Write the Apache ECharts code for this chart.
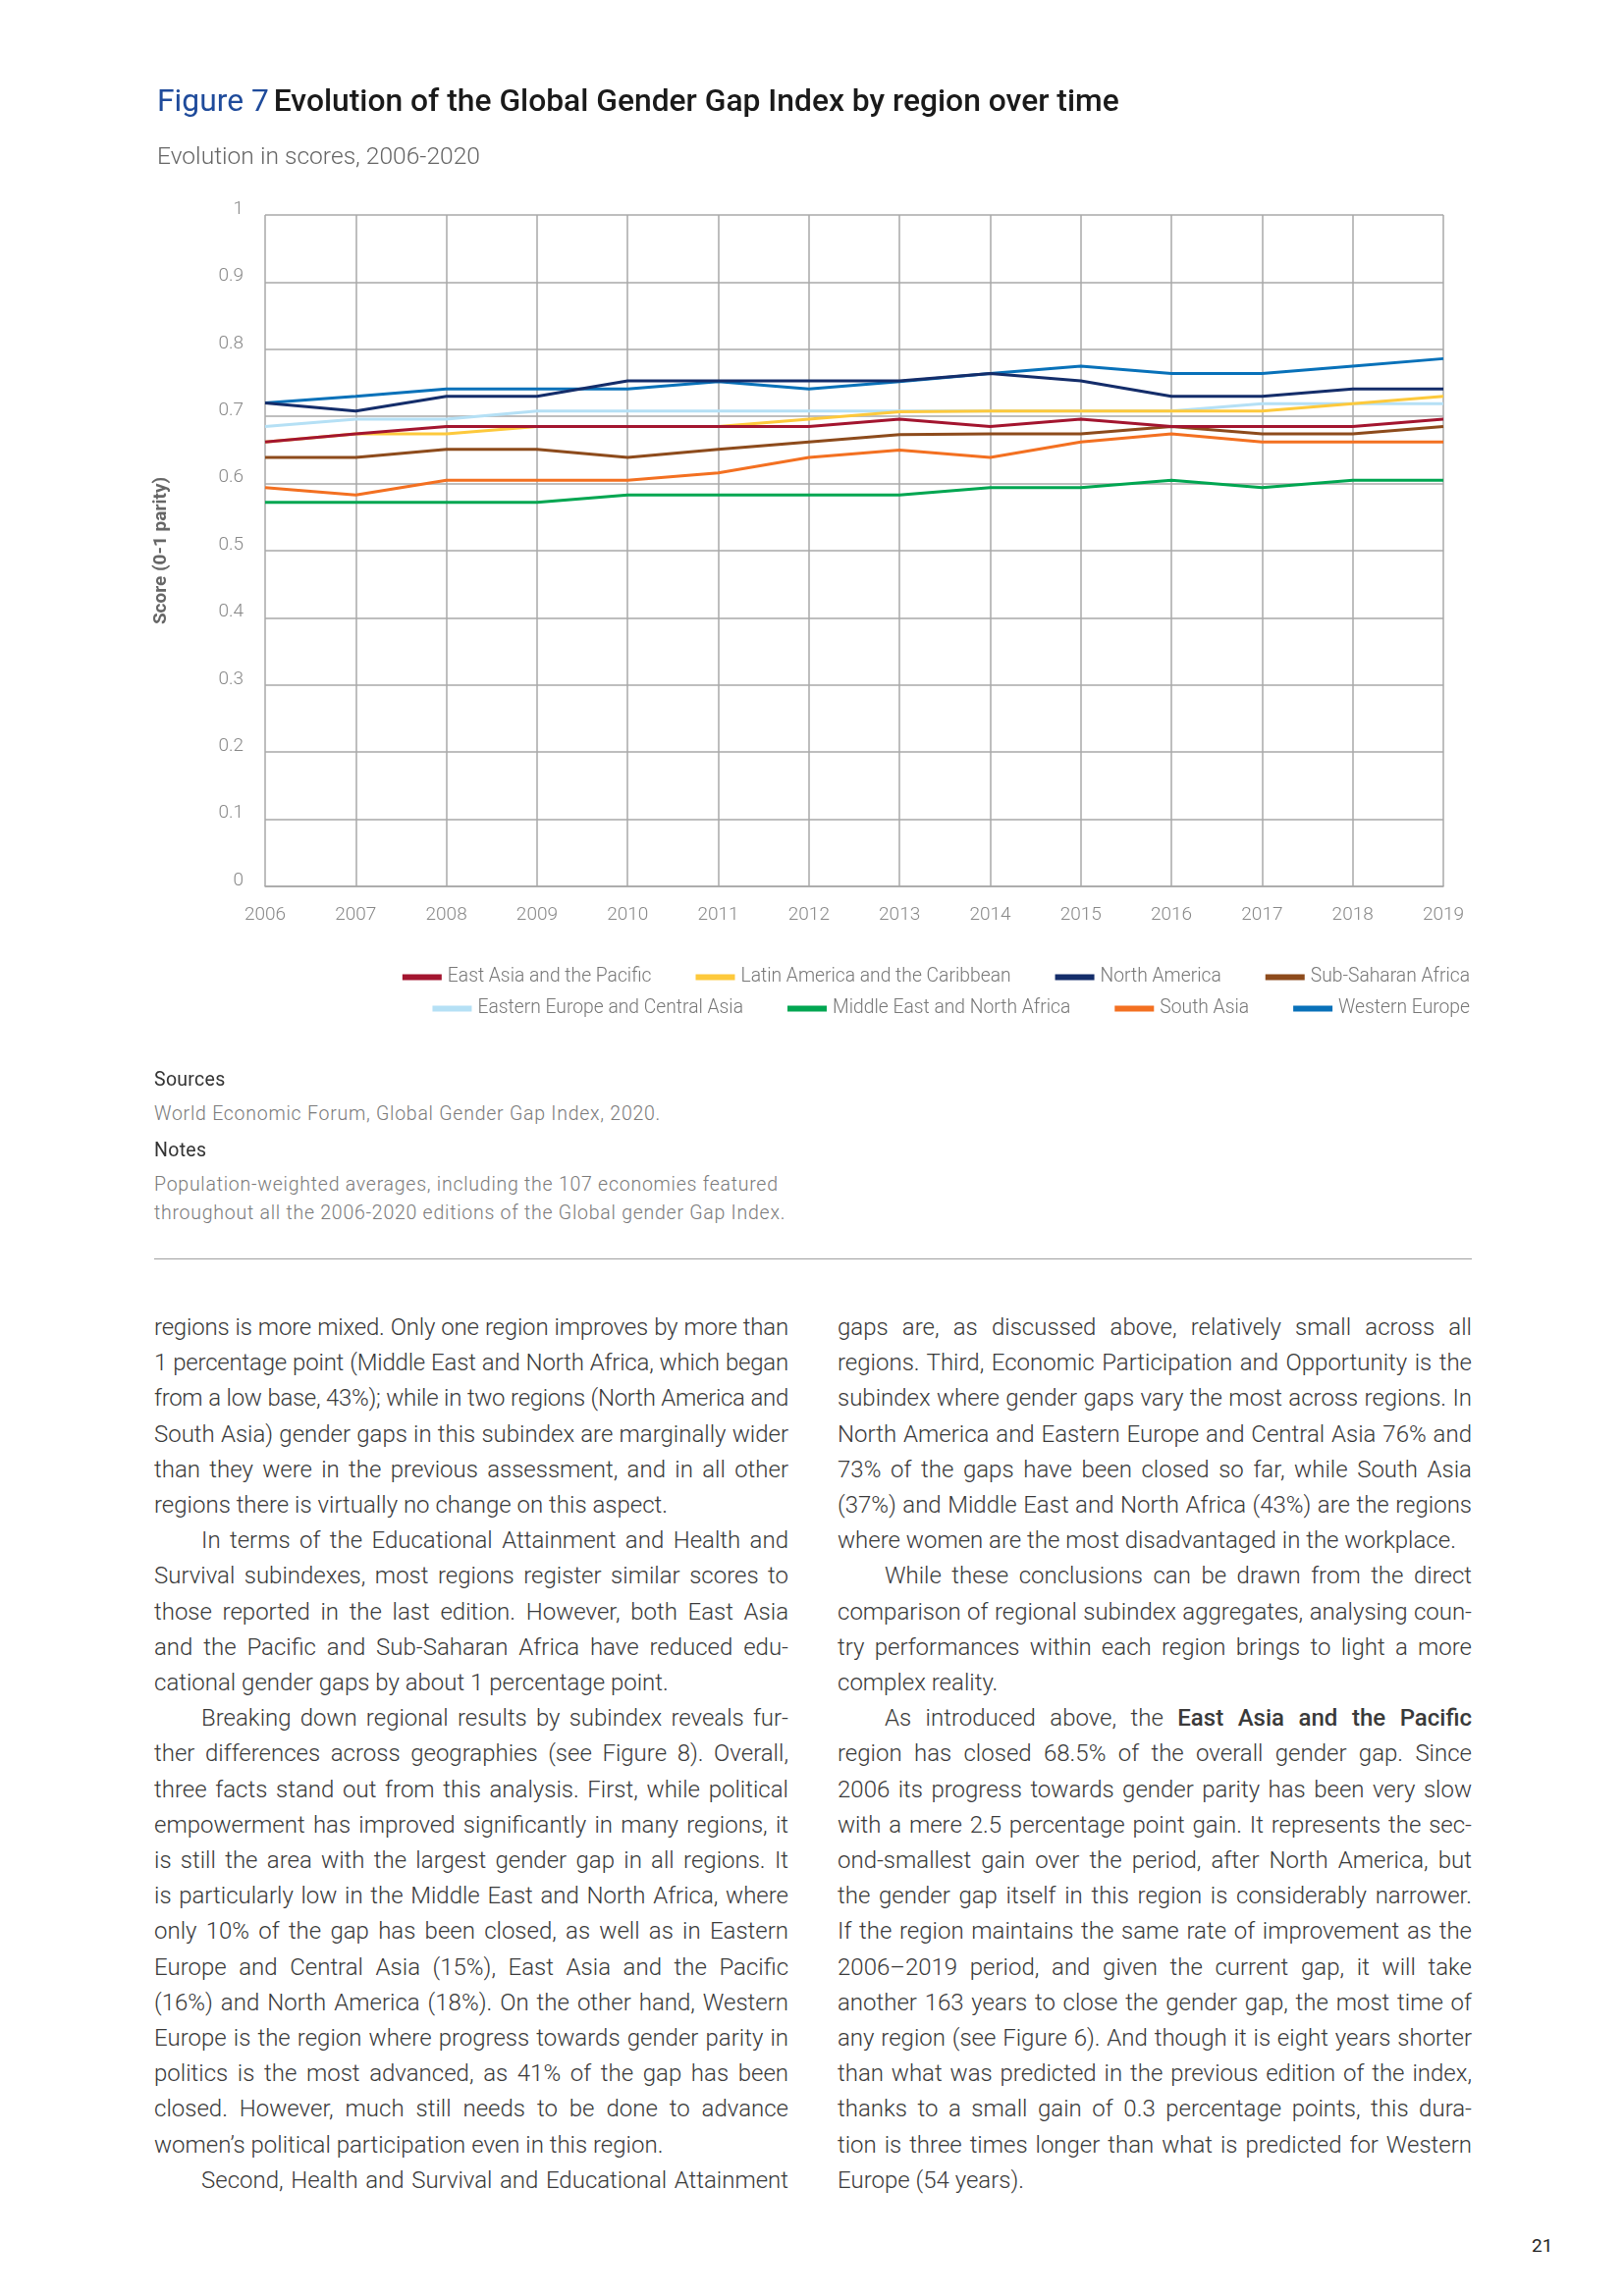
<!DOCTYPE html>
<html>
<head>
<meta charset="utf-8">
<script src="https://cdn.jsdelivr.net/npm/echarts@6/dist/echarts.min.js"></script>
<style>
  html, body { margin:0; padding:0; background:#fff; }
  body { width:1654px; height:2339px; position:relative; overflow:hidden; font-family: Roboto, "Liberation Sans", Arial, sans-serif; }
  #chart { position:absolute; left:0; top:0; width:1654px; height:1090px; }
  .src { position:absolute; left:157px; font-size:19.5px; letter-spacing:0.75px; line-height:22px; }
  .hd { color:#333; font-weight:400; letter-spacing:0.3px; }
  .tx { color:#7a7a7a; font-weight:300; }
  #rule { position:absolute; left:157px; top:1282px; width:1342px; height:0; border-top:1.5px solid #a0a0a0; }
  .col { position:absolute; top:1334px; width:646px; font-size:24px; line-height:36.2px; color:#3a3a3a; font-weight:300; }
  .col div { white-space:nowrap; text-align:justify; text-align-last:justify; }
  .col div.last { text-align-last:left; }
  .col div.ind { text-indent:48px; }
  #pg { position:absolute; left:1560px; top:2276px; font-size:19px; color:#222; }
</style>
</head>
<body>
<div id="chart"></div>

<div class="src hd" style="top:1089px">Sources</div>
<div class="src tx" style="top:1124px">World Economic Forum, Global Gender Gap Index, 2020.</div>
<div class="src hd" style="top:1161px">Notes</div>
<div class="src tx" style="top:1196px">Population-weighted averages, including the 107 economies featured</div>
<div class="src tx" style="top:1225px">throughout all the 2006-2020 editions of the Global gender Gap Index.</div>
<div id="rule"></div>

<div class="col" style="left:157px">
<div>regions is more mixed. Only one region improves by more than</div>
<div>1 percentage point (Middle East and North Africa, which began</div>
<div>from a low base, 43%); while in two regions (North America and</div>
<div>South Asia) gender gaps in this subindex are marginally wider</div>
<div>than they were in the previous assessment, and in all other</div>
<div class="last">regions there is virtually no change on this aspect.</div>
<div class="ind">In terms of the Educational Attainment and Health and</div>
<div>Survival subindexes, most regions register similar scores to</div>
<div>those reported in the last edition. However, both East Asia</div>
<div>and the Pacific and Sub-Saharan Africa have reduced edu-</div>
<div class="last">cational gender gaps by about 1 percentage point.</div>
<div class="ind">Breaking down regional results by subindex reveals fur-</div>
<div>ther differences across geographies (see Figure 8). Overall,</div>
<div>three facts stand out from this analysis. First, while political</div>
<div>empowerment has improved significantly in many regions, it</div>
<div>is still the area with the largest gender gap in all regions. It</div>
<div>is particularly low in the Middle East and North Africa, where</div>
<div>only 10% of the gap has been closed, as well as in Eastern</div>
<div>Europe and Central Asia (15%), East Asia and the Pacific</div>
<div>(16%) and North America (18%). On the other hand, Western</div>
<div>Europe is the region where progress towards gender parity in</div>
<div>politics is the most advanced, as 41% of the gap has been</div>
<div>closed. However, much still needs to be done to advance</div>
<div class="last">women’s political participation even in this region.</div>
<div class="ind">Second, Health and Survival and Educational Attainment</div>
</div>

<div class="col" style="left:853px">
<div>gaps are, as discussed above, relatively small across all</div>
<div>regions. Third, Economic Participation and Opportunity is the</div>
<div>subindex where gender gaps vary the most across regions. In</div>
<div>North America and Eastern Europe and Central Asia 76% and</div>
<div>73% of the gaps have been closed so far, while South Asia</div>
<div>(37%) and Middle East and North Africa (43%) are the regions</div>
<div class="last">where women are the most disadvantaged in the workplace.</div>
<div class="ind">While these conclusions can be drawn from the direct</div>
<div>comparison of regional subindex aggregates, analysing coun-</div>
<div>try performances within each region brings to light a more</div>
<div class="last">complex reality.</div>
<div class="ind">As introduced above, the <b style="font-weight:500">East Asia and the Pacific</b></div>
<div>region has closed 68.5% of the overall gender gap. Since</div>
<div>2006 its progress towards gender parity has been very slow</div>
<div>with a mere 2.5 percentage point gain. It represents the sec-</div>
<div>ond-smallest gain over the period, after North America, but</div>
<div>the gender gap itself in this region is considerably narrower.</div>
<div>If the region maintains the same rate of improvement as the</div>
<div>2006–2019 period, and given the current gap, it will take</div>
<div>another 163 years to close the gender gap, the most time of</div>
<div>any region (see Figure 6). And though it is eight years shorter</div>
<div>than what was predicted in the previous edition of the index,</div>
<div>thanks to a small gain of 0.3 percentage points, this dura-</div>
<div>tion is three times longer than what is predicted for Western</div>
<div class="last">Europe (54 years).</div>
</div>

<div id="pg">21</div>

<script>
// keep overlong justified lines inside their column
document.querySelectorAll('.col div').forEach(function(d){
  var ls = 0;
  while (d.scrollWidth > d.clientWidth + 0.5 && ls > -1.5) {
    ls -= 0.1;
    d.style.letterSpacing = ls.toFixed(2) + 'px';
  }
});
</script>

<script>
const years = ['2006','2007','2008','2009','2010','2011','2012','2013','2014','2015','2016','2017','2018','2019'];
const yTicks = ['0','0.1','0.2','0.3','0.4','0.5','0.6','0.7','0.8','0.9','1'];

const eastAsiaPacific    = [0.662,0.674,0.685,0.685,0.685,0.685,0.685,0.696,0.685,0.696,0.685,0.685,0.685,0.696];
const latinAmCaribbean   = [0.662,0.674,0.674,0.685,0.685,0.685,0.696,0.707,0.708,0.708,0.708,0.708,0.719,0.730];
const northAmerica       = [0.720,0.708,0.730,0.730,0.753,0.753,0.753,0.753,0.764,0.753,0.730,0.730,0.741,0.741];
const subSaharanAfrica   = [0.639,0.639,0.651,0.651,0.639,0.651,0.662,0.673,0.674,0.674,0.685,0.674,0.674,0.685];
const easternEuropeCA    = [0.685,0.696,0.696,0.708,0.708,0.708,0.708,0.708,0.708,0.708,0.708,0.719,0.719,0.719];
const middleEastNAfrica  = [0.572,0.572,0.572,0.572,0.583,0.583,0.583,0.583,0.594,0.594,0.605,0.594,0.605,0.605];
const southAsia          = [0.594,0.583,0.605,0.605,0.605,0.616,0.639,0.650,0.639,0.662,0.674,0.662,0.662,0.662];
const westernEurope      = [0.720,0.730,0.741,0.741,0.741,0.752,0.741,0.752,0.764,0.775,0.764,0.764,0.775,0.786];

const legendRow1 = ['East Asia and the Pacific','Latin America and the Caribbean','North America','Sub-Saharan Africa'];
const legendRow2 = ['Eastern Europe and Central Asia','Middle East and North Africa','South Asia','Western Europe'];

const seriesDefs = [
  {name:'Western Europe', data:westernEurope, color:'#0871b9'},
  {name:'Eastern Europe and Central Asia', data:easternEuropeCA, color:'#b5e0f5'},
  {name:'Middle East and North Africa', data:middleEastNAfrica, color:'#00a651'},
  {name:'South Asia', data:southAsia, color:'#f37021'},
  {name:'Sub-Saharan Africa', data:subSaharanAfrica, color:'#8d4b1c'},
  {name:'Latin America and the Caribbean', data:latinAmCaribbean, color:'#fdc93c'},
  {name:'East Asia and the Pacific', data:eastAsiaPacific, color:'#a3152f'},
  {name:'North America', data:northAmerica, color:'#142d6a'}
];

const FONT = 'Roboto, "Liberation Sans", Arial, sans-serif';
const chart = echarts.init(document.getElementById('chart'), null, {renderer:'canvas'});

const legendCommon = {
  orient:'horizontal', right:152, icon:'rect', itemWidth:40, itemHeight:6, itemGap:45,
  textStyle:{fontFamily:FONT, fontSize:19.3, color:'#777', fontWeight:300, padding:[0,0,0,1]},
  selectedMode:false
};

chart.setOption({
  backgroundColor:'#fff',
  animation:false,
  title:[
    {left:155, top:84, text:'{a|Figure 7} {b|Evolution of the Global Gender Gap Index by region over time}',
     textStyle:{rich:{
       a:{fontFamily:FONT, fontSize:31.8, color:'#1f4b9b', fontWeight:400},
       b:{fontFamily:FONT, fontSize:31.8, color:'#1a1a1a', fontWeight:500}
     }}},
    {left:155, top:143, text:'Evolution in scores, 2006-2020',
     textStyle:{fontFamily:FONT, fontSize:24.6, color:'#666', fontWeight:300}}
  ],
  legend:[
    Object.assign({top:981, data:legendRow1}, legendCommon),
    Object.assign({top:1013, data:legendRow2}, legendCommon)
  ],
  grid:{left:270, right:184, top:219, bottom:187, containLabel:false},
  xAxis:{
    type:'category', data:years, boundaryGap:false,
    axisLine:{show:true, lineStyle:{color:'#a8a8a8', width:1.5}},
    axisTick:{show:false},
    axisLabel:{margin:20, fontFamily:FONT, fontSize:19, color:'#888', fontWeight:300},
    splitLine:{show:true, lineStyle:{color:'#a8a8a8', width:1.5}}
  },
  yAxis:{
    type:'value', min:0, max:1, interval:0.1,
    name:'Score (0-1 parity)', nameLocation:'middle', nameGap:96, nameRotate:90,
    nameTextStyle:{fontFamily:FONT, fontSize:19, color:'#666', fontWeight:'bold'},
    axisLine:{show:false}, axisTick:{show:false},
    axisLabel:{margin:22, fontFamily:FONT, fontSize:19, color:'#888', fontWeight:300,
      verticalAlign:'bottom', lineHeight:12,
      formatter:function(v){ const i=Math.round(v*10); return yTicks[i]; }},
    splitLine:{show:true, lineStyle:{color:'#a8a8a8', width:1.5}}
  },
  series: seriesDefs.map(function(s){
    return {name:s.name, type:'line', data:s.data, symbol:'none', showSymbol:false,
      lineStyle:{color:s.color, width:3}, itemStyle:{color:s.color}};
  })
});
</script>
</body>
</html>
